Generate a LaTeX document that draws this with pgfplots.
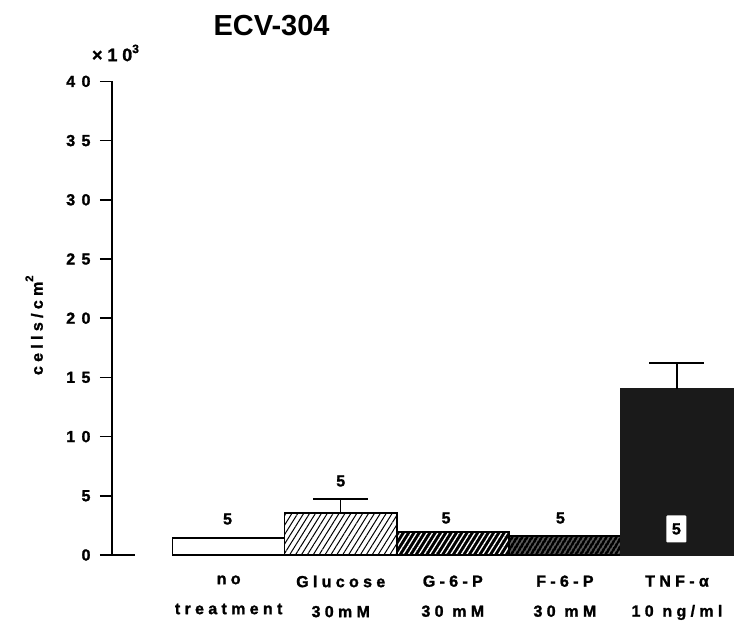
\documentclass[border=0pt]{standalone}
\usepackage{fontspec}
\setmainfont{Liberation Sans}
\newfontfamily\spacedbf{Liberation Sans Bold}[LetterSpace=27, FakeBold=1.5]
\newfontfamily\widebf{Liberation Sans Bold}[LetterSpace=40, FakeBold=1.5]
\usepackage{pgfplots}
\pgfplotsset{compat=1.18}
\usetikzlibrary{patterns.meta}
\newcommand\tk{\spacedbf\fontsize{16}{30}\selectfont}
\newcommand\tky{\widebf\fontsize{16}{30}\selectfont}
\definecolor{barblack}{HTML}{1A1A1A}
\begin{document}
\begin{tikzpicture}
\begin{axis}[
 at={(0,0)}, anchor=south west,
 scale only axis, width=621pt, height=473.6pt,
 xmin=-0.041, xmax=5.5, ymin=0, ymax=40,
 axis x line*=bottom, axis y line*=left,
 x axis line style={draw=none},
 y axis line style={line width=1.5pt},
 ytick={0,5,...,40},
 xtick={1,...,5},
 xticklabels={no\\treatment, Glucose\\30mM, G-6-P\\30 mM, F-6-P\\30 mM, TNF-α\\10 ng/ml},
 xticklabel style={align=center, font=\tk, yshift=-5pt},
 major x tick style={draw=none},
 ytick style={line width=1.5pt, black},
 tick align=outside, major tick length=12pt,
 yticklabel style={font=\tky, xshift=-6pt},
 /pgf/number format/assume math mode=true,
 clip=false,
]
\addplot[ybar, bar width=1, bar shift=0pt, draw=black, line width=1.5pt, fill=white] coordinates {(1,1.44)};
\addplot[ybar, bar width=1, bar shift=0pt, draw=black, line width=1.5pt,
  pattern={Lines[angle=58,distance=5pt,line width=1pt]}, pattern color=black,
  error bars/.cd, y dir=plus, y explicit,
  error bar style={line width=1.5pt, solid},
  error mark=|, error mark options={line width=1.5pt, mark size=27.5pt}]
  coordinates {(2,3.55) +- (0,1.18)};
\addplot[ybar, bar width=1, bar shift=0pt, draw=black, line width=1.5pt,
  preaction={fill=black},
  pattern={Lines[angle=58,distance=4.5pt,line width=1.3pt]}, pattern color=white]
  coordinates {(3,1.95)};
\addplot[ybar, bar width=1, bar shift=0pt, draw=black, line width=1.5pt,
  preaction={fill=black},
  pattern={Lines[angle=58,distance=4pt,line width=0.6pt]}, pattern color=white]
  coordinates {(4,1.6)};
\addplot[ybar, bar width=1, bar shift=0pt, draw=barblack, line width=1.5pt, fill=barblack,
  error bars/.cd, y dir=plus, y explicit,
  error bar style={line width=1.5pt, black},
  error mark=|, error mark options={line width=1.5pt, mark size=27.5pt, black}]
  coordinates {(5,14.0) +- (0,2.2)};
\draw[line width=1.5pt] (axis cs:-0.041,0) -- (axis cs:0.164,0);
\node[font=\tk] at (axis cs:0.99,3.04) {5};
\node[font=\tk] at (axis cs:2.0,6.25) {5};
\node[font=\tk] at (axis cs:2.94,3.125) {5};
\node[font=\tk] at (axis cs:3.96,3.125) {5};
\node[font=\tk, fill=white, rounded corners=1pt, inner xsep=1pt, minimum height=27pt, minimum width=20pt] at (axis cs:4.995,2.2) {5\hspace{4pt}};
\node[font=\bfseries\fontsize{29}{29}\selectfont] at (axis cs:1.383,44.76) {ECV-304};
\node[font=\spacedbf\fontsize{18}{18}\selectfont] at (axis cs:-0.01,42.4) {×10\raisebox{0.45em}{\fontsize{12}{12}\selectfont 3}};
\node[rotate=90, font=\tk] at (axis cs:-0.735,19.4) {cells/cm\raisebox{0.6em}{\fontsize{11}{11}\selectfont 2}};
\end{axis}
\pgfresetboundingbox
\path (-112pt,-67pt) rectangle (627pt,555pt);
\end{tikzpicture}
\end{document}
